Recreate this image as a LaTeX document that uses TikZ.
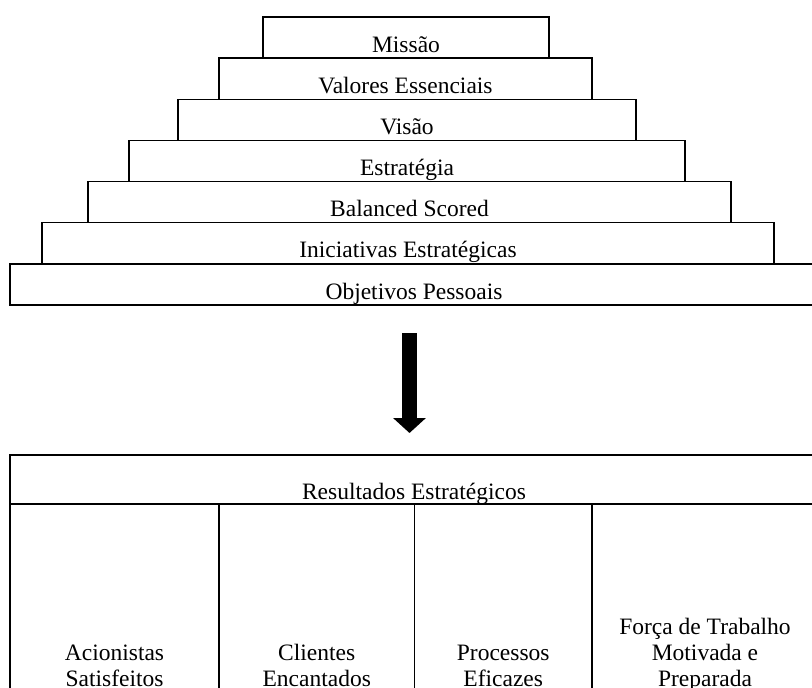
\documentclass[tikz,border=0pt]{standalone}
\usepackage{fontspec}
\setmainfont{Liberation Serif}
\usetikzlibrary{arrows.meta,positioning}

\begin{document}
\begin{tikzpicture}[
  x=1pt, y=-1pt,
  every node/.style = {font=\fontsize{23.5}{26}\selectfont},
  stepbox/.style = {draw, line width=1.5pt, inner xsep=0pt, inner ysep=0pt,
                    minimum height=41.14pt, text height=35.14pt, text depth=6pt},
  hdrbox/.style  = {draw, line width=1.5pt, inner xsep=0pt, inner ysep=0pt,
                    minimum width=808pt, minimum height=49pt,
                    text height=44pt, text depth=5pt},
  colbox/.style  = {draw, line width=1.5pt, inner sep=0pt, minimum height=192pt},
  coltext/.style = {inner sep=0pt, align=center},
  bigarrow/.style = {line width=15pt, -{Triangle[width=32pt,length=15pt]}},
]
\useasboundingbox (0,0) rectangle (812,688);

%% -- Pyramid ------------------------------------------------------------------
\node[stepbox, minimum width=286pt] (missao)  at (406.0, 37.57)  {Missão};
\node[stepbox, minimum width=373pt] (valores) at (405.5, 78.71)  {Valores Essenciais};
\node[stepbox, minimum width=458pt] (visao)   at (407.0, 119.86) {Visão};
\node[stepbox, minimum width=556pt] (estrat)  at (407.0, 161.00) {Estratégia};
\node[stepbox, minimum width=643pt] (bsc)     at (409.5, 202.14) {Balanced Scored};
\node[stepbox, minimum width=732pt] (inic)    at (408.0, 243.29) {Iniciativas Estratégicas};
\node[stepbox, minimum width=808pt] (objet)   at (414.0, 284.43) {Objetivos Pessoais};

%% -- Arrow --------------------------------------------------------------------
\coordinate (arrtop) at (409.5, 333);
\coordinate (arrtip) at (409.5, 433);
\draw[bigarrow] (arrtop) -- (arrtip);

%% -- Results table ------------------------------------------------------------
\node[hdrbox] (result) at (414, 479.5) {Resultados Estratégicos};
\node[colbox, minimum width=209pt]   (col1) at (114.5, 600) {};
\node[colbox, minimum width=195.5pt] (col2) at (316.75, 600) {};
\node[colbox, minimum width=177.5pt] (col3) at (503.25, 600) {};
\node[colbox, minimum width=226pt]   (col4) at (705, 600) {};

\node[coltext, above=2.2pt of col1.south] (acion) {Acionistas\\Satisfeitos\strut};
\node[coltext, above=2.2pt of col2.south] (clien) {Clientes\\Encantados\strut};
\node[coltext, above=2.2pt of col3.south] (proc)  {Processos\\Eficazes\strut};
\node[coltext, above=2.2pt of col4.south] (forca) {Força de Trabalho\\Motivada e\\Preparada\strut};

\end{tikzpicture}
\end{document}
